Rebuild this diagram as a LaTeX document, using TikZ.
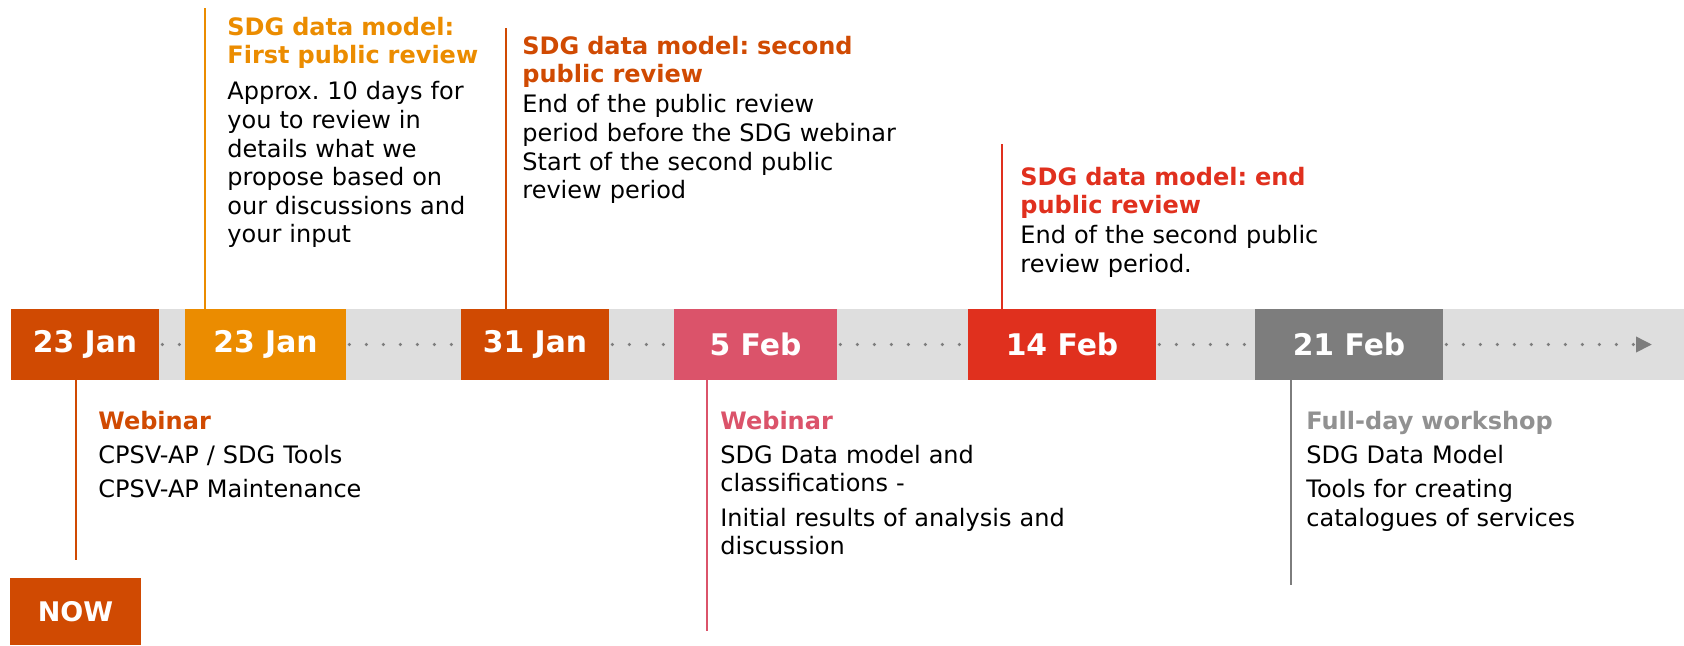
\documentclass[tikz,border=0pt]{standalone}
\usepackage{fontspec}
\setmainfont{DejaVu Sans}
\usepackage{xcolor}
\usetikzlibrary{arrows.meta}

\definecolor{pwcdark}{HTML}{D04A02}
\definecolor{pwcorange}{HTML}{EB8C00}
\definecolor{pwcrose}{HTML}{DB536A}
\definecolor{pwcred}{HTML}{E0301E}
\definecolor{pwcgrey}{HTML}{7D7D7D}
\definecolor{bandgrey}{HTML}{DEDEDE}

\newcommand{\evhead}[2]{\textcolor{#1}{\textbf{#2}}}
\frenchspacing

\begin{document}
\begin{tikzpicture}[x=0.5pt,y=-0.5pt,
    datebox/.style={fill=#1, text=white, inner sep=0pt, minimum height=35.5pt,
      font=\fontsize{14.9}{16}\selectfont\bfseries},
    stem/.style={draw=#1, line width=1pt},
    info/.style={anchor=base west, align=left, text width=220pt, inner sep=0pt,
      font=\fontsize{12}{14.3}\selectfont\frenchspacing},
    dotline/.style={draw=pwcgrey, line width=1.8pt, line cap=round,
      dash pattern=on 0pt off 8.5pt}]
                \useasboundingbox (0,0) rectangle (1684,645);
                \fill[bandgrey] (11,309) rectangle (1684,380);
                % dates on the band
                \node[datebox=pwcdark, minimum width=74pt] (d1) at (85,344.5) {23 Jan};
                \node[datebox=pwcorange, minimum width=80.5pt] (d2) at (265.5,344.5) {23 Jan};
                \node[datebox=pwcdark, minimum width=74pt] (d3) at (535,344.5) {31 Jan};
                \node[datebox=pwcrose, minimum width=81.5pt] (d4) at (755.5,344.5) {5 Feb};
                \node[datebox=pwcred, minimum width=94pt] (d5) at (1062,344.5) {14 Feb};
                \node[datebox=pwcgrey, minimum width=94pt] (d6) at (1349,344.5) {21 Feb};
                \node[datebox=pwcdark, minimum width=65.5pt, minimum height=33.5pt,
                  font=\fontsize{13.5}{15}\selectfont\bfseries] (now) at (75.5,611.5) {NOW};
                % dotted timeline
                \coordinate (tip) at (1652,344.5);
                \draw[dotline, shorten <=1.5pt] (d1.east) -- (d2.west);
                \draw[dotline, shorten <=1.5pt] (d2.east) -- (d3.west);
                \draw[dotline, shorten <=1.5pt] (d3.east) -- (d4.west);
                \draw[dotline, shorten <=1.5pt] (d4.east) -- (d5.west);
                \draw[dotline, shorten <=1.5pt] (d5.east) -- (d6.west);
                \draw[dotline, shorten <=1.5pt, -{Triangle[length=8pt,width=7.5pt]}] (d6.east) -- (tip);
                % stems
                \coordinate (t2) at (205,8);
                \coordinate (t3) at (506,28);
                \coordinate (t5) at (1002,144);
                \coordinate (b4) at (707,631);
                \coordinate (b6) at (1291,585);
                \draw[stem=pwcdark, shorten >=9pt] (d1.south -| now.north) -- (now.north);
                \draw[stem=pwcorange] (d2.north -| t2) -- (t2);
                \draw[stem=pwcdark] (d3.north -| t3) -- (t3);
                \draw[stem=pwcred] (d5.north -| t5) -- (t5);
                \draw[stem=pwcrose] (d4.south -| b4) -- (b4);
                \draw[stem=pwcgrey] (d6.south -| b6) -- (b6);
                % texts
                \node[info] (rev1) at (227,35) {\evhead{pwcorange}{SDG data model:}\\
                  \evhead{pwcorange}{First public review}\\[3.8pt]
                  Approx. 10 days for\\ you to review in\\ details what we\\
                  propose based on\\ our discussions and\\ your input};
                \node[info] (rev2) at (522,54) {\evhead{pwcdark}{SDG data model: second}\\
                  \evhead{pwcdark}{public review}\\[0.8pt]
                  End of the public review\\ period before the SDG webinar\\
                  Start of the second public\\ review period};
                \node[info] (rev3) at (1020,185) {\evhead{pwcred}{SDG data model: end}\\
                  \evhead{pwcred}{public review}\\[0.8pt]
                  End of the second public\\ review period.};
                \node[info] (web1) at (98,429) {\evhead{pwcdark}{Webinar}\\[2.8pt]
                  CPSV-AP / SDG Tools\\[2.8pt] CPSV-AP Maintenance};
                \node[info] (web2) at (720,429) {\evhead{pwcrose}{Webinar}\\[2.8pt]
                  SDG Data model and\\ classifications -\\[2.8pt]
                  Initial results of analysis and\\ discussion};
                \node[info] (work) at (1306,429) {\evhead{pwcgrey!85}{Full-day workshop}\\[2.8pt]
                  SDG Data Model\\[2.8pt] Tools for creating\\ catalogues of services};
            \end{tikzpicture}
\end{document}
